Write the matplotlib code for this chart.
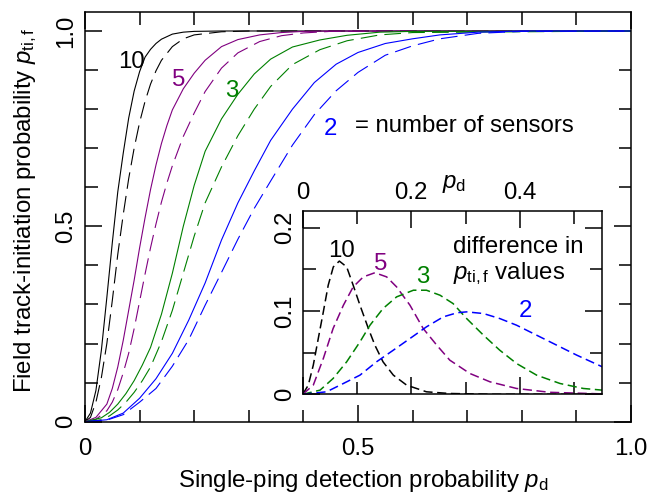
import matplotlib
matplotlib.use("Agg")
import matplotlib.pyplot as plt
from matplotlib.ticker import FixedLocator, MultipleLocator

plt.rcParams['font.family'] = ['Liberation Sans', 'DejaVu Sans']
plt.rcParams['mathtext.fontset'] = 'custom'
plt.rcParams['mathtext.rm'] = 'Liberation Sans'
plt.rcParams['mathtext.it'] = 'Liberation Sans:italic'

# --- main chart: field track-initiation probability vs single-ping pd ---
pd10 = [0, 0.01, 0.02, 0.03, 0.04, 0.05, 0.06, 0.07, 0.08, 0.09, 0.10, 0.11, 0.12, 0.13, 0.14, 0.16, 0.18, 0.20, 0.25, 0.30, 1.0]
solid10 = [0, 0.022, 0.080, 0.183, 0.318, 0.458, 0.588, 0.687, 0.777, 0.846, 0.896, 0.933, 0.953, 0.968, 0.979, 0.992, 0.997, 0.999, 1.0, 1.0, 1.0]
dash10 = [0, 0.011, 0.050, 0.113, 0.200, 0.310, 0.428, 0.530, 0.622, 0.700, 0.766, 0.820, 0.864, 0.898, 0.925, 0.960, 0.980, 0.990, 0.998, 1.0, 1.0]

pd5 = [0, 0.02, 0.04, 0.05, 0.06, 0.07, 0.08, 0.09, 0.10, 0.11, 0.12, 0.13, 0.14, 0.15, 0.16, 0.18, 0.20, 0.22, 0.25, 0.28, 0.32, 0.36, 0.40, 0.45, 1.0]
solid5 = [0, 0.011, 0.045, 0.085, 0.140, 0.208, 0.285, 0.362, 0.445, 0.522, 0.594, 0.657, 0.712, 0.758, 0.798, 0.852, 0.892, 0.925, 0.960, 0.978, 0.990, 0.996, 0.999, 1.0, 1.0]
dash5 = [0, 0.006, 0.028, 0.050, 0.082, 0.125, 0.175, 0.238, 0.308, 0.378, 0.445, 0.506, 0.562, 0.611, 0.655, 0.730, 0.790, 0.845, 0.905, 0.944, 0.973, 0.988, 0.995, 0.999, 1.0]

pd3 = [0, 0.03, 0.045, 0.06, 0.075, 0.09, 0.105, 0.12, 0.14, 0.16, 0.18, 0.20, 0.22, 0.25, 0.28, 0.31, 0.34, 0.38, 0.43, 0.48, 0.54, 0.60, 1.0]
solid3 = [0, 0.010, 0.024, 0.045, 0.072, 0.105, 0.145, 0.190, 0.275, 0.380, 0.500, 0.605, 0.692, 0.775, 0.838, 0.890, 0.928, 0.959, 0.977, 0.989, 0.997, 0.999, 1.0]
dash3 = [0, 0.005, 0.015, 0.030, 0.050, 0.075, 0.105, 0.140, 0.205, 0.285, 0.380, 0.475, 0.560, 0.652, 0.732, 0.800, 0.858, 0.914, 0.952, 0.975, 0.990, 0.996, 1.0]

pd2 = [0, 0.04, 0.07, 0.10, 0.13, 0.16, 0.19, 0.22, 0.25, 0.28, 0.31, 0.34, 0.38, 0.42, 0.46, 0.50, 0.55, 0.60, 0.65, 0.72, 0.80, 1.0]
solid2 = [0, 0.005, 0.022, 0.060, 0.110, 0.175, 0.260, 0.355, 0.465, 0.560, 0.642, 0.720, 0.800, 0.868, 0.915, 0.945, 0.968, 0.980, 0.990, 0.997, 1.0, 1.0]
dash2 = [0, 0.004, 0.018, 0.050, 0.085, 0.142, 0.210, 0.298, 0.382, 0.467, 0.546, 0.616, 0.708, 0.786, 0.847, 0.894, 0.938, 0.962, 0.980, 0.994, 0.999, 1.0]

# --- inset: difference between solid and dashed curves ---
pdi10 = [0, 0.0103, 0.0195, 0.0287, 0.038, 0.047, 0.0564, 0.0675, 0.081, 0.093, 0.1055, 0.121, 0.133, 0.148, 0.167, 0.1915, 0.228, 0.27, 0.35, 0.552]
diff10 = [0, 0.011, 0.035, 0.067, 0.099, 0.131, 0.153, 0.160, 0.153, 0.131, 0.107, 0.079, 0.059, 0.039, 0.023, 0.011, 0.003, 0.001, 0.0, 0.0]
pdi5 = [0, 0.0195, 0.038, 0.056, 0.075, 0.093, 0.1116, 0.133, 0.1547, 0.173, 0.1976, 0.222, 0.247, 0.271, 0.308, 0.345, 0.394, 0.455, 0.552]
diff5 = [0, 0.011, 0.043, 0.079, 0.107, 0.129, 0.141, 0.146, 0.141, 0.129, 0.107, 0.079, 0.059, 0.041, 0.025, 0.015, 0.007, 0.0024, 0.0005]
pdi3 = [0, 0.032, 0.056, 0.081, 0.1055, 0.124, 0.148, 0.173, 0.204, 0.228, 0.253, 0.277, 0.302, 0.333, 0.363, 0.394, 0.431, 0.474, 0.517, 0.552]
diff3 = [0, 0.005, 0.019, 0.039, 0.063, 0.083, 0.103, 0.117, 0.125, 0.125, 0.119, 0.109, 0.091, 0.071, 0.053, 0.037, 0.023, 0.013, 0.007, 0.005]
pdi2 = [0, 0.044, 0.075, 0.1055, 0.136, 0.167, 0.1976, 0.228, 0.259, 0.285, 0.302, 0.333, 0.363, 0.394, 0.431, 0.468, 0.505, 0.552]
diff2 = [0, 0.003, 0.013, 0.023, 0.039, 0.053, 0.067, 0.081, 0.093, 0.098, 0.099, 0.097, 0.091, 0.083, 0.071, 0.059, 0.047, 0.033]

sensors = ['10', '5', '3', '2']
colors = ['black', '#800080', '#008000', '#0000ff']

W, H = 647, 495
fig = plt.figure(figsize=(W / 100, H / 100), dpi=100)


def fx(px):
    return px / W


def fy(py):
    return 1 - py / H


fs = 17.3

ax = fig.add_axes([fx(85), fy(421.7), fx(631) - fx(85), fy(12) - fy(421.7)])
main = [(pd10, solid10, dash10), (pd5, solid5, dash5), (pd3, solid3, dash3), (pd2, solid2, dash2)]
for (x, s, d), c in zip(main, colors):
    ax.plot(x, s, color=c, lw=0.8)
    ax.plot(x, d, color=c, lw=0.8, dashes=(15, 6.5))
ax.set_xlim(0, 1)
ax.set_ylim(0, 1.0486)
ax.xaxis.set_major_locator(FixedLocator([0, 0.5, 1.0]))
ax.xaxis.set_minor_locator(MultipleLocator(0.1))
ax.yaxis.set_major_locator(FixedLocator([0, 0.5, 1.0]))
ax.yaxis.set_minor_locator(MultipleLocator(0.1))
ax.set_xticklabels(['0', '0.5', '1.0'])
ax.set_yticklabels(['0', '0.5', '1.0'], rotation=90, va='center')
ax.tick_params(which='both', direction='in', top=True, right=True, width=1.1, labelsize=fs)
ax.tick_params(which='major', length=12.5)
ax.tick_params(which='minor', length=9)
ax.tick_params(axis='x', pad=12)
ax.tick_params(axis='y', pad=6)
for sp in ax.spines.values():
    sp.set_linewidth(1.1)

# inset
axi = fig.add_axes([fx(302.7), fy(394.3), fx(602.3) - fx(302.7), fy(210.7) - fy(394.3)])
inset = [(pdi10, diff10), (pdi5, diff5), (pdi3, diff3), (pdi2, diff2)]
for (x, d), c in zip(inset, colors):
    axi.plot(x, d, color=c, lw=1.1, dashes=(6, 3))
axi.set_xlim(0, 0.552)
axi.set_ylim(0, 0.2205)
axi.xaxis.set_major_locator(FixedLocator([0, 0.2, 0.4]))
axi.xaxis.set_minor_locator(FixedLocator([0.1, 0.3, 0.5]))
axi.yaxis.set_major_locator(FixedLocator([0, 0.1, 0.2]))
axi.yaxis.set_minor_locator(FixedLocator([0.05, 0.15]))
axi.set_xticklabels(['0', '0.2', '0.4'])
axi.set_yticklabels(['0', '0.1', '0.2'], rotation=90, va='center')
axi.tick_params(which='both', direction='in', top=True, right=True, bottom=True, width=1.1,
                labelsize=fs, labeltop=True, labelbottom=False)
axi.tick_params(which='major', length=12.5)
axi.tick_params(which='minor', length=9)
axi.tick_params(axis='x', pad=5)
axi.tick_params(axis='y', pad=5)
for sp in axi.spines.values():
    sp.set_linewidth(1.1)

# main annotations
fig.text(fx(118.3), fy(68.3), sensors[0], color=colors[0], fontsize=fs, va='baseline')
fig.text(fx(171.7), fy(86), sensors[1], color=colors[1], fontsize=fs, va='baseline')
fig.text(fx(225), fy(96.7), sensors[2], color=colors[2], fontsize=fs, va='baseline')
fig.text(fx(323.3), fy(135), sensors[3], color=colors[3], fontsize=fs, va='baseline')
fig.text(fx(355), fy(132), '= number of sensors', fontsize=fs, va='baseline')

# inset annotations
fig.text(fx(328.3), fy(256.7), sensors[0], color=colors[0], fontsize=fs, va='baseline')
fig.text(fx(374), fy(270), sensors[1], color=colors[1], fontsize=fs, va='baseline')
fig.text(fx(416), fy(283.3), sensors[2], color=colors[2], fontsize=fs, va='baseline')
fig.text(fx(518.3), fy(316.7), sensors[3], color=colors[3], fontsize=fs, va='baseline')
fig.text(fx(453), fy(252.7), 'difference in', fontsize=fs, va='baseline')
fig.text(fx(453), fy(279.3), r'$p_\mathrm{ti,f}$ values', fontsize=fs, va='baseline')
fig.text(fx(442), fy(188), r'$p_\mathrm{d}$', fontsize=fs, va='baseline')

# axis titles
fig.text(fx(178), fy(487), r'Single-ping detection probability $p_\mathrm{d}$', fontsize=fs, va='baseline')
fig.text(fx(31), fy(393), r'Field track-initiation probability $p_\mathrm{ti,f}$', fontsize=fs,
         rotation=90, ha='left', va='baseline', rotation_mode='anchor')

fig.savefig('out.png', dpi=100)
